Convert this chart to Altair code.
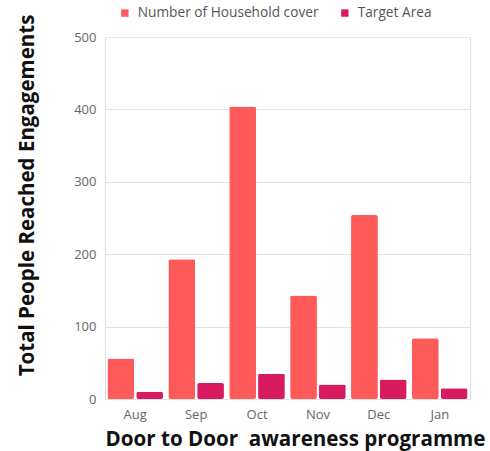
import altair as alt
import pandas as pd

months = ["Aug", "Sep", "Oct", "Nov", "Dec", "Jan"]
household_cover = [56, 193, 404, 143, 254, 84]
target_area = [10, 22, 35, 20, 27, 15]
series_names = ["Number of Household cover", "Target Area"]
series_colors = ["#FF5A5A", "#D81B60"]

rows = []
for m, h, t in zip(months, household_cover, target_area):
    rows.append({"month": m, "series": series_names[0], "value": h})
    rows.append({"month": m, "series": series_names[1], "value": t})
df = pd.DataFrame(rows)

FONT = "Open Sans"

chart = (
    alt.Chart(df)
    .mark_bar(cornerRadius=2)
    .encode(
        x=alt.X(
            "month:N",
            sort=months,
            scale=alt.Scale(paddingInner=0.087, paddingOuter=0.04),
            axis=alt.Axis(
                # non-breaking space keeps the double gap after "Door"
                title="Door to Door\u00a0 awareness programme",
                labelAngle=0,
                labelColor="#666666",
                labelFontSize=13,
                labelFont=FONT,
                labelPadding=9,
                domain=False,
                ticks=False,
                titleFont=FONT,
                titleFontSize=20.6,
                titleFontWeight="bold",
                titleColor="#111111",
                titleX=190,
                titleY=40,
                titleBaseline="middle",
                titleAlign="center",
                titleLimit=0,
            ),
        ),
        xOffset=alt.XOffset(
            "series:N",
            sort=series_names,
            scale=alt.Scale(paddingInner=0.07),
        ),
        y=alt.Y(
            "value:Q",
            scale=alt.Scale(domain=[0, 500]),
            axis=alt.Axis(
                title="Total People Reached Engagements",
                values=[0, 100, 200, 300, 400, 500],
                labelColor="#666666",
                labelFontSize=13,
                labelFont=FONT,
                labelPadding=9,
                domain=False,
                ticks=False,
                gridColor="#e3e3e3",
                titleFont=FONT,
                titleFontSize=20.5,
                titleFontWeight="bold",
                titleColor="#111111",
                titleAngle=-90,
                titleX=-78,
                titleY=158,
                titleAlign="center",
                titleBaseline="middle",
                titleLimit=0,
            ),
        ),
        color=alt.Color(
            "series:N",
            sort=series_names,
            scale=alt.Scale(domain=series_names, range=series_colors),
            legend=alt.Legend(
                title=None,
                orient="none",
                direction="horizontal",
                legendX=13,
                legendY=-31,
                symbolType="square",
                symbolSize=55,
                symbolStrokeWidth=0,
                labelFont=FONT,
                labelFontSize=13.7,
                labelColor="#555555",
                labelLimit=0,
                columnPadding=19,
                labelOffset=6,
            ),
        ),
    )
    .properties(
        width=365,
        height=362,
        autosize=alt.AutoSizeParams(type="none"),
        padding={"left": 105, "top": 37, "right": 20, "bottom": 52},
    )
    .configure_view(stroke=None)
    .configure(background="white")
)

chart.save("out.html", embed_options={"renderer": "svg", "actions": False})
